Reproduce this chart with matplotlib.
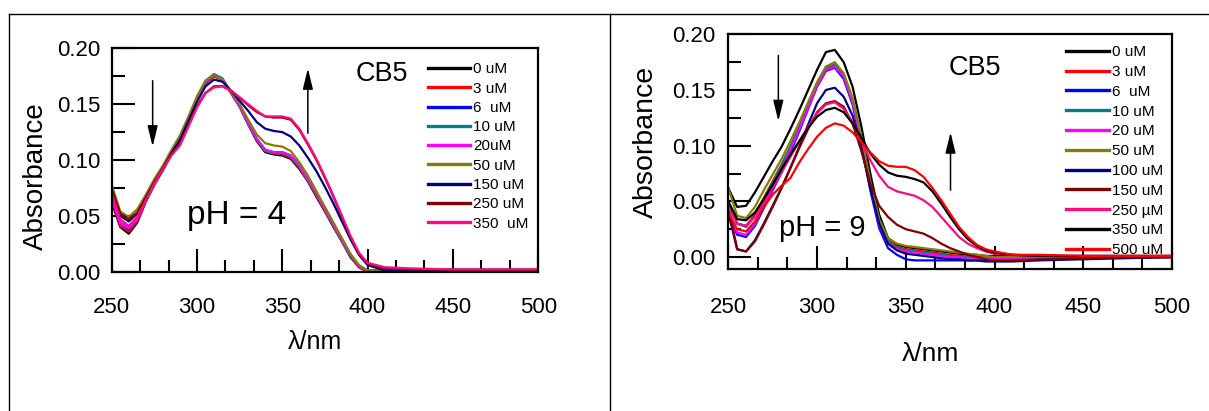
import matplotlib.pyplot as plt
from matplotlib.lines import Line2D
from matplotlib.ticker import MultipleLocator, FormatStrFormatter

plt.rcParams['font.family'] = ['Liberation Sans', 'DejaVu Sans']

# wavelength grid (nm), shared by all curves
wl = [250, 255, 260, 265, 270, 275, 280, 285, 290, 295, 300, 305, 310, 315,
      320, 325, 330, 335, 340, 345, 350, 355, 360, 365, 370, 375, 380, 385,
      390, 395, 400, 410, 425, 450, 475, 500]

# ---- pH = 4 panel ----
labels_ph4 = ['0 uM', '3 uM', '6  uM', '10 uM', '20uM', '50 uM', '150 uM', '250 uM', '350  uM']
colors_ph4 = ['#000000', '#ff0000', '#0000ff', '#008080', '#ff00ff', '#808000',
              '#000080', '#800000', '#ff0a80']
ph4_0 = [0.062, 0.040, 0.034, 0.044, 0.063, 0.078, 0.091, 0.105, 0.118, 0.136, 0.154, 0.169, 0.175, 0.172,
         0.160, 0.148, 0.132, 0.117, 0.107, 0.105, 0.104, 0.101, 0.092, 0.081, 0.067, 0.054, 0.040, 0.027,
         0.013, 0.004, 0.000, 0.001, 0.001, 0.001, 0.001, 0.001]
ph4_3 = [0.064, 0.041, 0.036, 0.045, 0.063, 0.078, 0.091, 0.105, 0.118, 0.136, 0.154, 0.169, 0.175, 0.172,
         0.160, 0.148, 0.132, 0.118, 0.108, 0.106, 0.105, 0.102, 0.093, 0.081, 0.068, 0.054, 0.041, 0.027,
         0.014, 0.004, 0.000, 0.001, 0.001, 0.001, 0.001, 0.001]
ph4_6 = [0.065, 0.043, 0.038, 0.047, 0.064, 0.079, 0.092, 0.106, 0.119, 0.137, 0.155, 0.170, 0.176, 0.172,
         0.160, 0.148, 0.133, 0.119, 0.109, 0.107, 0.107, 0.104, 0.095, 0.083, 0.070, 0.056, 0.042, 0.028,
         0.015, 0.005, 0.001, 0.001, 0.001, 0.001, 0.001, 0.001]
ph4_10 = [0.066, 0.044, 0.040, 0.048, 0.064, 0.079, 0.092, 0.106, 0.120, 0.138, 0.156, 0.171, 0.177, 0.173,
          0.160, 0.148, 0.132, 0.118, 0.108, 0.106, 0.106, 0.103, 0.094, 0.082, 0.069, 0.055, 0.041, 0.027,
          0.014, 0.005, 0.001, 0.001, 0.001, 0.001, 0.001, 0.001]
ph4_20 = [0.066, 0.043, 0.039, 0.047, 0.064, 0.079, 0.092, 0.106, 0.119, 0.137, 0.155, 0.170, 0.176, 0.172,
          0.160, 0.148, 0.133, 0.119, 0.109, 0.107, 0.107, 0.104, 0.095, 0.083, 0.070, 0.056, 0.042, 0.028,
          0.015, 0.005, 0.001, 0.001, 0.001, 0.001, 0.001, 0.001]
ph4_50 = [0.078, 0.054, 0.049, 0.056, 0.069, 0.083, 0.095, 0.109, 0.122, 0.139, 0.157, 0.171, 0.176, 0.172,
          0.161, 0.150, 0.136, 0.123, 0.115, 0.113, 0.112, 0.108, 0.098, 0.086, 0.072, 0.058, 0.044, 0.030,
          0.016, 0.006, 0.001, 0.001, 0.001, 0.001, 0.001, 0.001]
ph4_150 = [0.070, 0.050, 0.045, 0.052, 0.066, 0.080, 0.092, 0.106, 0.118, 0.135, 0.152, 0.166, 0.172, 0.170,
           0.162, 0.153, 0.144, 0.134, 0.128, 0.126, 0.125, 0.121, 0.113, 0.102, 0.090, 0.076, 0.061, 0.045,
           0.029, 0.015, 0.006, 0.001, 0.001, 0.001, 0.001, 0.001]
ph4_250 = [0.074, 0.052, 0.047, 0.053, 0.066, 0.080, 0.093, 0.105, 0.114, 0.131, 0.148, 0.160, 0.166, 0.166,
           0.162, 0.156, 0.149, 0.143, 0.139, 0.138, 0.138, 0.136, 0.127, 0.114, 0.100, 0.084, 0.067, 0.049,
           0.031, 0.016, 0.007, 0.003, 0.002, 0.002, 0.002, 0.002]
ph4_350 = [0.070, 0.047, 0.041, 0.049, 0.064, 0.079, 0.092, 0.104, 0.113, 0.130, 0.147, 0.160, 0.165, 0.166,
           0.162, 0.156, 0.150, 0.144, 0.139, 0.139, 0.139, 0.137, 0.128, 0.115, 0.101, 0.085, 0.068, 0.050,
           0.032, 0.017, 0.008, 0.004, 0.003, 0.002, 0.002, 0.002]
series_ph4 = [ph4_0, ph4_3, ph4_6, ph4_10, ph4_20, ph4_50, ph4_150, ph4_250, ph4_350]

# ---- pH = 9 panel ----
labels_ph9 = ['0 uM', '3 uM', '6  uM', '10 uM', '20 uM', '50 uM', '100 uM', '150 uM',
              '250 \u00b5M', '350 uM', '500 uM']
colors_ph9 = ['#000000', '#ff0000', '#0000ff', '#008080', '#ff00ff', '#808000',
              '#000080', '#800000', '#ff0a80', '#000000', '#ff0000']
ph9_0 = [0.062, 0.045, 0.046, 0.058, 0.072, 0.086, 0.099, 0.115, 0.132, 0.150, 0.168, 0.184, 0.186, 0.175,
         0.153, 0.117, 0.075, 0.038, 0.017, 0.011, 0.009, 0.008, 0.007, 0.006, 0.005, 0.004, 0.003, 0.002,
         0.002, 0.001, 0.001, 0.001, 0.000, 0.000, 0.000, 0.000]
ph9_3 = [0.048, 0.030, 0.028, 0.038, 0.053, 0.068, 0.083, 0.099, 0.117, 0.136, 0.155, 0.169, 0.172, 0.163,
         0.141, 0.106, 0.067, 0.033, 0.015, 0.009, 0.007, 0.006, 0.005, 0.004, 0.003, 0.002, 0.001, 0.001,
         0.000, 0.000, 0.000, 0.000, 0.000, 0.000, 0.000, 0.000]
ph9_6 = [0.040, 0.020, 0.018, 0.028, 0.044, 0.060, 0.076, 0.094, 0.113, 0.133, 0.153, 0.167, 0.170, 0.160,
         0.137, 0.101, 0.060, 0.026, 0.008, 0.002, -0.002, -0.003, -0.003, -0.003, -0.003, -0.003, -0.003, -0.003,
         -0.003, -0.003, -0.003, -0.003, -0.002, -0.001, 0.000, 0.000]
ph9_10 = [0.048, 0.030, 0.027, 0.037, 0.052, 0.067, 0.082, 0.099, 0.117, 0.136, 0.155, 0.170, 0.174, 0.164,
          0.141, 0.106, 0.066, 0.032, 0.014, 0.008, 0.006, 0.005, 0.004, 0.003, 0.002, 0.001, 0.000, 0.000,
          -0.001, -0.001, -0.001, -0.001, -0.001, 0.000, 0.000, 0.000]
ph9_20 = [0.040, 0.022, 0.020, 0.030, 0.046, 0.062, 0.078, 0.096, 0.115, 0.134, 0.154, 0.168, 0.171, 0.162,
          0.139, 0.104, 0.063, 0.029, 0.012, 0.007, 0.005, 0.004, 0.003, 0.002, 0.001, 0.000, 0.000, -0.001,
          -0.001, -0.001, -0.001, -0.001, -0.001, 0.000, 0.000, 0.000]
ph9_50 = [0.062, 0.037, 0.035, 0.045, 0.060, 0.074, 0.088, 0.104, 0.121, 0.139, 0.157, 0.171, 0.175, 0.165,
          0.143, 0.108, 0.068, 0.034, 0.017, 0.012, 0.010, 0.009, 0.008, 0.007, 0.006, 0.005, 0.004, 0.003,
          0.002, 0.001, 0.000, 0.000, 0.000, 0.000, 0.000, 0.000]
ph9_100 = [0.040, 0.007, 0.005, 0.015, 0.030, 0.046, 0.062, 0.080, 0.099, 0.119, 0.138, 0.150, 0.152, 0.144,
           0.127, 0.098, 0.062, 0.030, 0.012, 0.006, 0.003, 0.002, 0.001, 0.000, -0.001, -0.002, -0.002, -0.003,
           -0.003, -0.004, -0.004, -0.004, -0.003, -0.002, -0.001, 0.000]
ph9_150 = [0.045, 0.007, 0.005, 0.014, 0.029, 0.045, 0.062, 0.080, 0.098, 0.115, 0.130, 0.138, 0.140, 0.135,
           0.120, 0.095, 0.066, 0.046, 0.036, 0.029, 0.025, 0.023, 0.021, 0.017, 0.012, 0.008, 0.005, 0.002,
           0.000, -0.002, -0.003, -0.003, -0.002, -0.001, 0.000, 0.000]
ph9_250 = [0.045, 0.030, 0.028, 0.036, 0.048, 0.062, 0.076, 0.090, 0.104, 0.117, 0.129, 0.137, 0.139, 0.133,
           0.121, 0.104, 0.087, 0.073, 0.063, 0.059, 0.057, 0.055, 0.051, 0.045, 0.036, 0.027, 0.018, 0.012,
           0.008, 0.005, 0.003, 0.002, 0.001, 0.001, 0.001, 0.001]
ph9_350 = [0.050, 0.034, 0.033, 0.040, 0.052, 0.065, 0.079, 0.092, 0.104, 0.116, 0.126, 0.132, 0.134, 0.130,
           0.120, 0.107, 0.093, 0.083, 0.076, 0.073, 0.072, 0.070, 0.067, 0.059, 0.048, 0.036, 0.025, 0.016,
           0.010, 0.006, 0.004, 0.002, 0.001, 0.001, 0.001, 0.001]
ph9_500 = [0.040, 0.025, 0.023, 0.032, 0.045, 0.056, 0.064, 0.071, 0.085, 0.097, 0.108, 0.116, 0.120, 0.118,
           0.112, 0.103, 0.094, 0.086, 0.082, 0.081, 0.081, 0.078, 0.072, 0.062, 0.051, 0.039, 0.027, 0.018,
           0.011, 0.007, 0.005, 0.002, 0.002, 0.001, 0.001, 0.001]
series_ph9 = [ph9_0, ph9_3, ph9_6, ph9_10, ph9_20, ph9_50, ph9_100, ph9_150, ph9_250, ph9_350, ph9_500]

fig = plt.figure(figsize=(12.09, 4.11), dpi=100)

# page frame lines (screenshot borders)
fig.add_artist(Line2D([9 / 1209, 1], [1 - 14 / 411, 1 - 14 / 411], color='black', lw=1))
fig.add_artist(Line2D([9 / 1209, 9 / 1209], [0, 1 - 14 / 411], color='black', lw=1))
fig.add_artist(Line2D([609.5 / 1209, 609.5 / 1209], [0, 1 - 14 / 411], color='black', lw=1))


def style_axes(ax, ylim, ypad, xpad):
    ax.set_xlim(250, 500)
    ax.set_ylim(*ylim)
    ax.xaxis.set_major_locator(MultipleLocator(50))
    ax.xaxis.set_minor_locator(MultipleLocator(50 / 3))
    ax.yaxis.set_major_locator(MultipleLocator(0.05))
    ax.yaxis.set_minor_locator(MultipleLocator(0.025))
    ax.yaxis.set_major_formatter(FormatStrFormatter('%.2f'))
    ax.tick_params(which='both', direction='in', top=False, right=False, width=1.5)
    ax.tick_params(which='major', length=16.5, labelsize=16)
    ax.tick_params(which='minor', length=9)
    ax.tick_params(axis='y', which='major', pad=ypad)
    ax.tick_params(axis='x', which='major', pad=xpad)
    for sp in ax.spines.values():
        sp.set_linewidth(1.6)


def arrow(ax, x, y0, y1):
    ax.annotate('', xy=(x, y1), xytext=(x, y0),
                arrowprops=dict(arrowstyle='-|>,head_width=0.22,head_length=0.9',
                                color='black', lw=1.1, mutation_scale=14,
                                shrinkA=0, shrinkB=0))


# left panel
ax1 = fig.add_axes([0.0924, 0.3389, 0.3527, 0.5436])
for vals, col, lab in zip(series_ph4, colors_ph4, labels_ph4):
    ax1.plot(wl, vals, color=col, lw=1.6, label=lab)
style_axes(ax1, (0, 0.2), 8, 18)
ax1.set_xlabel('\u03bb/nm', fontsize=18)
ax1.xaxis.set_label_coords(0.477, -0.26)
ax1.set_ylabel('Absorbance', fontsize=20)
ax1.yaxis.set_label_coords(-0.148, 0.43)
ax1.text(0.633, 0.884, 'CB5', transform=ax1.transAxes, fontsize=19.5, ha='center', va='center')
ax1.text(0.293, 0.25, 'pH = 4', transform=ax1.transAxes, fontsize=24, ha='center', va='center')
arrow(ax1, 274, 0.171, 0.112)
arrow(ax1, 365, 0.124, 0.182)
leg1 = ax1.legend(loc='upper left', bbox_to_anchor=(0.7425, 0.937), frameon=False,
                  fontsize=11, handlelength=2.72, handletextpad=0.2,
                  labelspacing=0.345, borderpad=0, borderaxespad=0)
for ln in leg1.get_lines():
    ln.set_linewidth(2.4)

# right panel
ax2 = fig.add_axes([0.6024, 0.3448, 0.3670, 0.5718])
for vals, col, lab in zip(series_ph9, colors_ph9, labels_ph9):
    ax2.plot(wl, vals, color=col, lw=1.6, label=lab)
style_axes(ax2, (-0.011, 0.2), 9, 20)
ax2.set_xlabel('\u03bb/nm', fontsize=19)
ax2.xaxis.set_label_coords(0.456, -0.31)
ax2.set_ylabel('Absorbance', fontsize=20.5)
ax2.yaxis.set_label_coords(-0.156, 0.54)
ax2.text(0.555, 0.855, 'CB5', transform=ax2.transAxes, fontsize=19.5, ha='center', va='center')
ax2.text(0.212, 0.174, 'pH = 9', transform=ax2.transAxes, fontsize=21, ha='center', va='center')
arrow(ax2, 278.2, 0.181, 0.122)
arrow(ax2, 375.2, 0.060, 0.112)
leg2 = ax2.legend(loc='upper left', bbox_to_anchor=(0.761, 0.954), frameon=False,
                  fontsize=11, handlelength=2.83, handletextpad=0.2,
                  labelspacing=0.38, borderpad=0, borderaxespad=0)
for ln in leg2.get_lines():
    ln.set_linewidth(2.4)

fig.savefig('out.png', dpi=100)
